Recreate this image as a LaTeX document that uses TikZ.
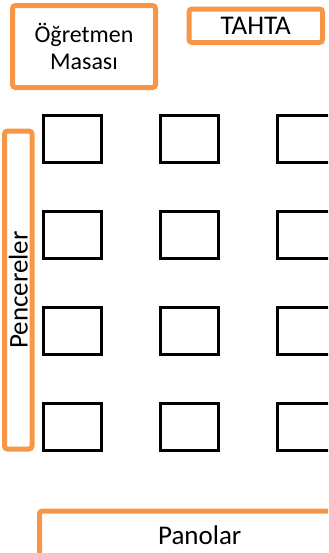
\documentclass[tikz,border=0pt]{standalone}
\usepackage{fontspec}
\setmainfont{Carlito}
\usepackage{xcolor}
\usepackage{tikz}
\usetikzlibrary{positioning}
\definecolor{AccentOrange}{HTML}{F79646}
\definecolor{DeskBlack}{HTML}{000000}

\begin{document}
\begin{tikzpicture}[x=0.5pt, y=-0.5pt,
    roombox/.style={draw=AccentOrange, line width=2.5pt, rounded corners=1.5pt, inner sep=0pt, align=center, font=\fontsize{13.5}{16}\selectfont},
    desk/.style={draw=DeskBlack, line width=1.5pt, minimum width=29pt, minimum height=23.5pt, inner sep=0pt}]
    \useasboundingbox (0,0) rectangle (328,553);
    \clip (0,0) rectangle (328,553);

    % front of the room
    \node[roombox, minimum width=71.5pt, minimum height=41pt, font=\fontsize{12}{13.5}\selectfont] (masa) at (84,46.5) {Öğretmen\\Masası};
    \node[roombox, minimum width=66.75pt, minimum height=16.75pt] (tahta) at (255.75,25.75) {TAHTA};

    % side and back walls
    \node[roombox, rotate=90, minimum width=159pt, minimum height=13.75pt] (pencere) at (18.25,290) {Pencereler};
    \node[roombox, minimum width=160.25pt, minimum height=24.5pt] (pano) at (199.75,535.5) {Panolar};

    % desks
    \foreach \col/\x in {1/72, 2/189.5, 3/306.5}
      \foreach \row/\y in {1/138.5, 2/234.5, 3/330.5, 4/426.5}
        \node[desk] (desk-\row-\col) at (\x,\y) {};
\end{tikzpicture}
\end{document}
